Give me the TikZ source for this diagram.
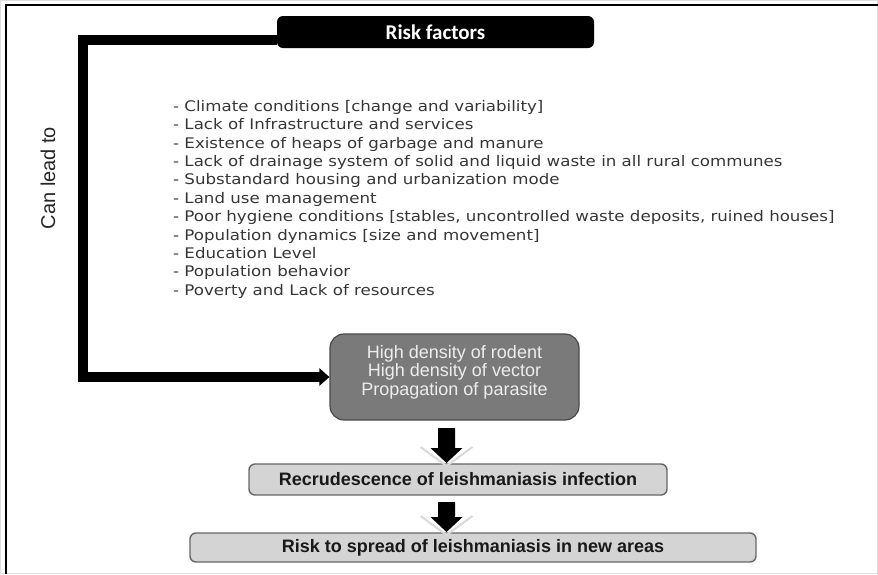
\documentclass[tikz,border=0pt]{standalone}
\usepackage{fontspec}
\setmainfont{Liberation Sans}
\newfontfamily\listfont[FakeStretch=1.14]{DejaVu Sans}
\newfontfamily\titlefont{Carlito}
\usetikzlibrary{arrows.meta}

\definecolor{darkbox}{HTML}{7A7A7A}
\definecolor{darkedge}{HTML}{4A4A4A}
\definecolor{lightbox}{HTML}{D4D4D4}
\definecolor{lightedge}{HTML}{666666}
\definecolor{listink}{HTML}{363636}
\definecolor{paleink}{HTML}{EDEDED}

% downward block arrow: #1 top centre, #2 shaft length, #3 head length
\newcommand\blockdown[3]{%
  \draw[glow] ([shift={(-26,-#2+1)}]#1) -- ([shift={(0,-#2-#3-3)}]#1) -- ([shift={(26,-#2+1)}]#1);
  \fill[black] ([shift={(-8.5,0)}]#1) -- ++(17,0) -- ++(0,-#2) -- ++(7.5,0)
     -- ([shift={(0,-#2-#3)}]#1) -- ++(-16,#3) -- ++(7.5,0) -- cycle;}

\begin{document}
\begin{tikzpicture}[x=1pt,y=1pt,
  rfbox/.style={fill=black, rounded corners=6pt, minimum width=317pt, minimum height=32pt,
    inner sep=0pt, text=white, font=\titlefont\bfseries\fontsize{21}{22}\selectfont},
  hdbox/.style={fill=darkbox, draw=darkedge, line width=1.2pt, rounded corners=14pt,
    minimum width=249pt, minimum height=86pt, inner sep=0pt},
  hdtext/.style={text=paleink, align=center, inner sep=0pt,
    font=\fontsize{18}{18.6}\selectfont},
  stepbox/.style={fill=lightbox, draw=lightedge, line width=1.4pt, rounded corners=6pt,
    inner sep=0pt, text=black!90, font=\bfseries\fontsize{18}{20}\selectfont},
  listtext/.style={text=listink, align=left, inner sep=0pt, anchor=north west,
    font=\listfont\fontsize{14.6}{18.4}\selectfont},
  conn/.style={line width=10pt, line join=miter, -{Triangle[length=10pt,width=17pt]}},
  glow/.style={draw=gray!30, line width=2pt, line join=miter}
]
\useasboundingbox (0,0) rectangle (878,-574);

% page frame
\draw[gray!25, line width=1pt] (0.5,-0.5) rectangle (877.5,-573.5);
\draw[black, line width=2pt] (6,-574) -- (6,-5) -- (878,-5);

% title box
\node[rfbox] (rf) at (435.5,-32) {Risk factors};

% list of factors
\node[listtext] (factors) at (173,-100) {%
- Climate conditions [change and variability]\\
- Lack of Infrastructure and services\\
- Existence of heaps of garbage and manure\\
- Lack of drainage system of solid and liquid waste in all rural communes\\
- Substandard housing and urbanization mode\\
- Land use management\\
- Poor hygiene conditions [stables, uncontrolled waste deposits, ruined houses]\\
- Population dynamics [size and movement]\\
- Education Level\\
- Population behavior\\
- Poverty and Lack of resources};

% side label
\node[rotate=90, text=black!85, font=\fontsize{20}{22}\selectfont] (lead) at (48,-178) {Can lead to};

% consequences
\node[hdbox] (hd) at (454.5,-377) {};
\node[hdtext] (hdt) at (454.5,-372) {High density of rodent\\High density of vector\\Propagation of parasite};

\node[stepbox, minimum width=418pt, minimum height=31pt] (rec) at (458,-479.5)
  {Recrudescence of leishmaniasis infection};
\node[stepbox, minimum width=566pt, minimum height=29pt] (spr) at (473,-547.5)
  {Risk to spread of leishmaniasis in new areas};

% "can lead to" connector
\coordinate (bend) at (83,-200);
\draw[conn] ([yshift=-8pt]rf.west) -| (bend) |- (hd.west);

% block arrows between the stages
\coordinate (a1) at (446.5,-428);
\coordinate (a2) at (446.5,-502);
\blockdown{a1}{20}{15}
\blockdown{a2}{15}{15}
\end{tikzpicture}
\end{document}
